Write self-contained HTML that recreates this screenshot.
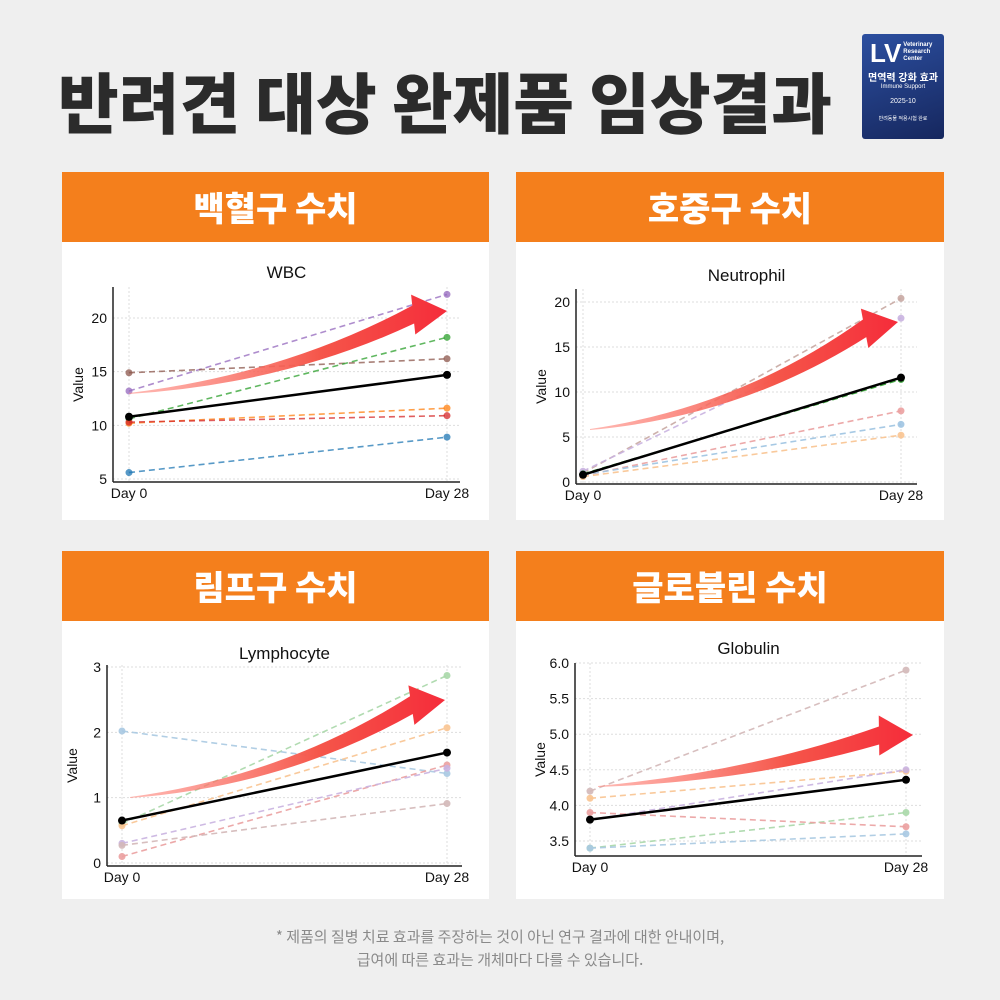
<!DOCTYPE html>
<html><head><meta charset="utf-8">
<style>
body{margin:0;width:1000px;height:1000px;background:#efefef;font-family:"Liberation Sans","Noto Sans CJK KR",sans-serif;position:relative;overflow:hidden}
.title{position:absolute;left:58px;top:52px;font-size:66px;font-weight:900;color:#2b2b2b;letter-spacing:0px;font-family:"Noto Sans CJK KR","Liberation Sans",sans-serif}
.badge{position:absolute;left:862px;top:34px;width:82px;height:105px;background:linear-gradient(160deg,#2c4fa0,#16275e);border-radius:3px;color:#fff;text-align:center;font-family:"Liberation Sans","Noto Sans CJK KR",sans-serif}
.hdr{position:absolute;height:70px;background:#f47f1c;color:#fff;font-size:34px;font-weight:900;text-align:center;line-height:70px;font-family:"Noto Sans CJK KR",sans-serif}
.card{position:absolute;height:278px;background:#fff}
.foot{position:absolute;left:0;width:1000px;text-align:center;color:#8a8a8a;font-size:15px;font-family:"Noto Sans CJK KR",sans-serif}
svg{position:absolute;left:0;top:0}
</style></head><body>
<div class="title">반려견 대상 완제품 임상결과</div>
<div class="badge">
<div style="font-size:26px;font-weight:900;margin-top:4px;text-align:left;padding-left:8px">LV<span style="font-size:6px;display:inline-block;line-height:7px;vertical-align:top;margin-left:2px;margin-top:4px">Veterinary<br>Research<br>Center</span></div>
<div style="font-size:10px;font-weight:700;margin-top:0px">면역력 강화 효과</div>
<div style="font-size:6px">Immune Support</div>
<div style="font-size:7px;margin-top:8px">2025-10</div>
<div style="font-size:5px;margin-top:10px">반려동물 적용시험 완료</div>
</div>

<div class="hdr" style="left:62px;top:172px;width:427px">백혈구 수치</div>
<div class="card" style="left:62px;top:242px;width:427px"></div>
<div class="hdr" style="left:516px;top:172px;width:428px">호중구 수치</div>
<div class="card" style="left:516px;top:242px;width:428px"></div>
<div class="hdr" style="left:62px;top:551px;width:427px">림프구 수치</div>
<div class="card" style="left:62px;top:621px;width:427px"></div>
<div class="hdr" style="left:516px;top:551px;width:428px">글로불린 수치</div>
<div class="card" style="left:516px;top:621px;width:428px"></div>

<div class="foot" style="top:926px">* 제품의 질병 치료 효과를 주장하는 것이 아닌 연구 결과에 대한 안내이며,</div>
<div class="foot" style="top:949px">급여에 따른 효과는 개체마다 다를 수 있습니다.</div>

<svg id="chart" width="1000" height="1000">
<defs><linearGradient id="ag" x1="0" x2="1" y1="0" y2="0"><stop offset="0" stop-color="#ff8a80" stop-opacity="0.6"/><stop offset="0.6" stop-color="#f5564a"/><stop offset="1" stop-color="#f52c3a"/></linearGradient></defs>
</svg>
<script>
const xLabels=["Day 0","Day 28"];
const wbcTicks=[5,10,15,20];
const wbcColors=["#9467bd","#8c564b","#2ca02c","#ff7f0e","#d62728","#1f77b4"];
const wbcDay0=[13.2,14.9,10.6,10.2,10.3,5.6];
const wbcDay28=[22.2,16.2,18.2,11.6,10.9,8.9];
const wbcMean=[10.8,14.7];
const neuTicks=[0,5,10,15,20];
const neuColors=["#c8a9a3","#c9b3e0","#2ca02c","#eba0a0","#9ec4e2","#f9c491"];
const neuDay0=[1.0,1.2,0.9,0.7,0.8,0.6];
const neuDay28=[20.4,18.2,11.4,7.9,6.4,5.2];
const neuMean=[0.8,11.6];
const lymTicks=[0,1,2,3];
const lymColors=["#a9d8a9","#a9c9e2","#f9c491","#eba0a0","#c9b3e0","#d3b8b8"];
const lymDay0=[0.6,2.02,0.57,0.1,0.3,0.27];
const lymDay28=[2.87,1.37,2.07,1.5,1.45,0.91];
const lymMean=[0.65,1.69];
const gloTicks=[3.5,4.0,4.5,5.0,5.5,6.0];
const gloLabels=["3.5","4.0","4.5","5.0","5.5","6.0"];
const gloColors=["#d3b8b8","#f9c491","#c9b3e0","#a9d8a9","#eba0a0","#a9c9e2"];
const gloDay0=[4.2,4.1,3.8,3.4,3.9,3.4];
const gloDay28=[5.9,4.48,4.5,3.9,3.7,3.6];
const gloMean=[3.8,4.36];

const svg=document.getElementById('chart');
const NS='http://www.w3.org/2000/svg';
function mk(tag,attrs,parent){const e=document.createElementNS(NS,tag);for(const k in attrs)e.setAttribute(k,attrs[k]);(parent||svg).appendChild(e);return e;}

function chart(o){
  const g=mk('g',{});
  
  
  const y=v=>o.y0px+(v-o.v0)*(o.y1px-o.y0px)/(o.v1-o.v0);
  const x=i=>i===0?o.xd0:o.xd28;
  const t=mk('text',{x:(o.left+o.right)/2,y:o.titleY,'text-anchor':'middle','font-size':17,fill:'#111'},g);
  t.textContent=o.title;
  
  
  o.ticks.forEach((v,i)=>{
    mk('line',{x1:o.left,x2:o.right,y1:y(v),y2:y(v),stroke:'#ddd','stroke-dasharray':'2,2'},g);
    const tl=mk('text',{x:o.left-6,y:y(v)+5,'text-anchor':'end','font-size':14,fill:'#111'},g);
    tl.textContent=o.tickLabels?o.tickLabels[i]:v;
    
    
  });
  [0,1].forEach(i=>{
    mk('line',{x1:x(i),x2:x(i),y1:o.top,y2:o.bottom,stroke:'#ddd','stroke-dasharray':'2,2'},g);
    const xl=mk('text',{x:x(i),y:o.bottom+16,'text-anchor':'middle','font-size':14,fill:'#111'},g);
    xl.textContent=xLabels[i];
    
    
  });
  mk('line',{x1:o.left,x2:o.left,y1:o.top,y2:o.bottom,stroke:'#222','stroke-width':1.5},g);
  mk('line',{x1:o.left,x2:o.right,y1:o.bottom,y2:o.bottom,stroke:'#222','stroke-width':1.5},g);
  const yt=mk('text',{x:0,y:0,transform:`translate(${o.left-30},${(o.top+o.bottom)/2}) rotate(-90)`,'text-anchor':'middle','font-size':14,fill:'#111'},g);
  yt.textContent='Value';
  
  
  o.d0.forEach((v,i)=>{
    const l=mk('line',{x1:x(0),y1:y(v),x2:x(1),y2:y(o.d28[i]),stroke:o.colors[i],'stroke-width':1.6,'stroke-dasharray':'6,4',opacity:o.op},g);
    
    
    mk('circle',{cx:x(0),cy:y(v),r:3.5,fill:o.colors[i],opacity:o.op},g);
    mk('circle',{cx:x(1),cy:y(o.d28[i]),r:3.5,fill:o.colors[i],opacity:o.op},g);
  });
  const m=mk('line',{x1:x(0),y1:y(o.mean[0]),x2:x(1),y2:y(o.mean[1]),stroke:'#000','stroke-width':2.5},g);
  
  
  mk('circle',{cx:x(0),cy:y(o.mean[0]),r:4,fill:'#000'},g);
  mk('circle',{cx:x(1),cy:y(o.mean[1]),r:4,fill:'#000'},g);
  const [sx,sy]=o.as,[tx,ty]=o.at;
  const hl=34, ang=Math.atan2(ty-sy,tx-sx)+0.15;
  const bx=tx-hl*Math.cos(ang), by=ty-hl*Math.sin(ang);
  const nx=-Math.sin(ang), ny=Math.cos(ang);
  const cx=sx+(bx-sx)*0.55, cy=Math.max(sy,by)-(Math.abs(by-sy))*0.15;
  const w=9;
  const d=`M${sx},${sy} Q${cx},${cy+2} ${bx+nx*w},${by+ny*w} L${bx+nx*20},${by+ny*20} L${tx},${ty} L${bx-nx*20},${by-ny*20} L${bx-nx*w},${by-ny*w} Q${cx},${cy-8} ${sx},${sy-1} Z`;
  const a=mk('path',{d:d,fill:'url(#ag)'},g);
  
  
}
chart({name:'wbc',title:'WBC',titleY:278,left:113,right:460,top:287,bottom:482,xd0:129,xd28:447,v0:5,v1:20,y0px:479,y1px:318,ticks:wbcTicks,colors:wbcColors,d0:wbcDay0,d28:wbcDay28,mean:wbcMean,op:0.75,as:[129,394],at:[447,311]});
chart({name:'neutrophil',title:'Neutrophil',titleY:281,left:576,right:917,top:289,bottom:484,xd0:583,xd28:901,v0:0,v1:20,y0px:482,y1px:302,ticks:neuTicks,colors:neuColors,d0:neuDay0,d28:neuDay28,mean:neuMean,op:0.9,as:[590,430],at:[898,322]});
chart({name:'lymphocyte',title:'Lymphocyte',titleY:659,left:107,right:462,top:665,bottom:866,xd0:122,xd28:447,v0:0,v1:3,y0px:863,y1px:667,ticks:lymTicks,colors:lymColors,d0:lymDay0,d28:lymDay28,mean:lymMean,op:0.9,as:[130,798],at:[445,700]});
chart({name:'globulin',title:'Globulin',titleY:654,left:575,right:922,top:663,bottom:856,xd0:590,xd28:906,v0:3.5,v1:6.0,y0px:841,y1px:663,ticks:gloTicks,tickLabels:gloLabels,colors:gloColors,d0:gloDay0,d28:gloDay28,mean:gloMean,op:0.9,as:[598,787],at:[913,735]});
</script>
</body></html>
